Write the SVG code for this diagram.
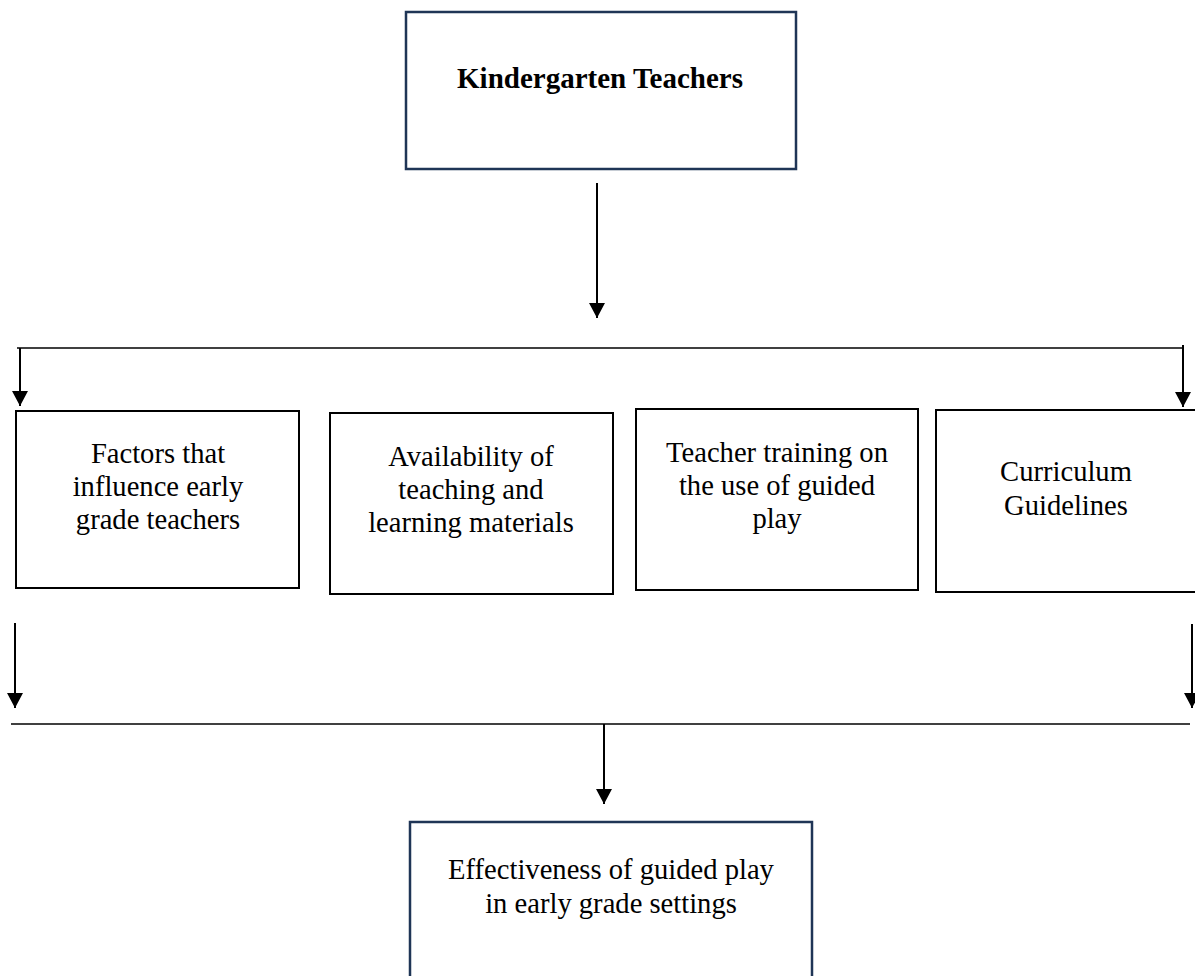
<svg xmlns="http://www.w3.org/2000/svg" width="1195" height="976" viewBox="0 0 1195 976">
<style>
.bg{fill:#ffffff}
.box{fill:#ffffff;stroke:#000000;stroke-width:2}
.nbox{fill:#ffffff;stroke:#1f3556;stroke-width:2.5}
.t{font-family:"Liberation Serif","Times New Roman",serif;font-size:28.6px;fill:#000000;text-anchor:middle}
.b{font-weight:bold;font-size:29px}
.arr{stroke:#000000;stroke-width:2;fill:none;marker-end:url(#ah)}
.ln{stroke:#000000;stroke-width:1.4;fill:none}
</style>
<defs>
<marker id="ah" markerUnits="userSpaceOnUse" markerWidth="16" markerHeight="16" refX="15" refY="8" orient="auto">
<path d="M0,0 L15,8 L0,16 z" fill="#000000"/>
</marker>
</defs>
<rect class="bg" x="0" y="0" width="1195" height="976"/>
<g id="connectors">
<line class="arr" x1="597" y1="183" x2="597" y2="318"/>
<line class="ln" x1="17" y1="348" x2="1183" y2="348"/>
<line class="arr" x1="20" y1="348" x2="20" y2="406"/>
<line class="arr" x1="1183" y1="345" x2="1183" y2="407"/>
<line class="arr" x1="15" y1="623" x2="15" y2="708"/>
<line class="arr" x1="1192" y1="624" x2="1192" y2="708"/>
<line class="ln" x1="11" y1="724" x2="1190" y2="724"/>
<line class="arr" x1="604" y1="724" x2="604" y2="804"/>
</g>
<g id="kindergarten-teachers">
<rect class="nbox" x="406" y="12" width="390" height="157"/>
<text class="t b" x="600" y="88">Kindergarten Teachers</text>
</g>
<g id="factors">
<rect class="box" x="16" y="411" width="283" height="177"/>
<text class="t" x="158" y="463">Factors that</text>
<text class="t" x="158" y="496">influence early</text>
<text class="t" x="158" y="529">grade teachers</text>
</g>
<g id="availability">
<rect class="box" x="330" y="413" width="283" height="181"/>
<text class="t" x="471" y="466">Availability of</text>
<text class="t" x="471" y="499">teaching and</text>
<text class="t" x="471" y="532">learning materials</text>
</g>
<g id="teacher-training">
<rect class="box" x="636" y="409" width="282" height="181"/>
<text class="t" x="777" y="462">Teacher training on</text>
<text class="t" x="777" y="495">the use of guided</text>
<text class="t" x="777" y="528">play</text>
</g>
<g id="curriculum">
<rect class="box" x="936" y="410" width="262" height="182"/>
<text class="t" x="1066" y="481">Curriculum</text>
<text class="t" x="1066" y="515">Guidelines</text>
</g>
<g id="effectiveness">
<rect class="nbox" x="410" y="822" width="402" height="170"/>
<text class="t" x="611" y="879">Effectiveness of guided play</text>
<text class="t" x="611" y="913">in early grade settings</text>
</g>
</svg>
